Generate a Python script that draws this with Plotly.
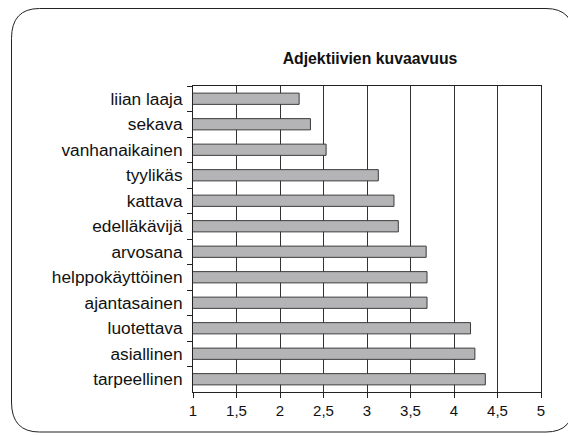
import plotly.graph_objects as go

categories = ["liian laaja", "sekava", "vanhanaikainen", "tyylikäs", "kattava",
              "edelläkävijä", "arvosana", "helppokäyttöinen", "ajantasainen",
              "luotettava", "asiallinen", "tarpeellinen"]
values = [2.22, 2.35, 2.53, 3.13, 3.31, 3.36, 3.68, 3.69, 3.69, 4.19, 4.24, 4.36]
x_ticks = [1, 1.5, 2, 2.5, 3, 3.5, 4, 4.5, 5]
x_tick_labels = ["1", "1,5", "2", "2,5", "3", "3,5", "4", "4,5", "5"]

OFF = 8  # default page body margin
W, H = 576 - OFF, 436 - OFF
L, R, T, B = 193 - OFF, 35, 86 - OFF, 44
pw, ph = W - L - R, H - T - B


def px(X):
    return (X - OFF - L) / pw


def py(Y):
    return (H - B - (Y - OFF)) / ph


fig = go.Figure(go.Bar(
    y=categories, x=values, orientation="h",
    marker=dict(color="#b4b4b6", line=dict(color="#3a3a3a", width=1)),
    width=0.44,
))

# rounded outer border (page coordinates)
x0, x1, y0, y1 = px(11.5), px(574), py(8.5), py(432)
rx = 28 / pw
ry = 30 / ph
path = (f"M {x0+rx},{y0} L {x1-rx},{y0} Q {x1},{y0} {x1},{y0-ry} "
        f"L {x1},{y1+ry} Q {x1},{y1} {x1-rx},{y1} "
        f"L {x0+rx},{y1} Q {x0},{y1} {x0},{y1+ry} "
        f"L {x0},{y0-ry} Q {x0},{y0} {x0+rx},{y0} Z")

fig.update_layout(
    width=W, height=H,
    margin=dict(l=L, r=R, t=T, b=B),
    paper_bgcolor="white", plot_bgcolor="white",
    font=dict(family="Liberation Sans, Arial, sans-serif", color="#111111"),
    showlegend=False,
    title=dict(text="<b>Adjektiivien kuvaavuus</b>", xref="container",
               x=(370 - OFF) / W, xanchor="center",
               yref="container", y=1 - (58 - OFF) / H, yanchor="middle",
               font=dict(size=15.8)),
    xaxis=dict(range=[1, 5], tickvals=x_ticks, ticktext=x_tick_labels,
               showgrid=True, gridcolor="#333333", gridwidth=1,
               showline=True, linecolor="#222222", linewidth=1, mirror=True,
               ticks="outside", ticklen=5, tickcolor="#222222",
               tickfont=dict(size=15), zeroline=False),
    yaxis=dict(categoryorder="array", categoryarray=categories, autorange="reversed",
               showgrid=False, showline=True, linecolor="#222222", linewidth=1,
               mirror=True, ticks="outside", ticklen=5, tickcolor="#222222",
               tickson="boundaries", tickfont=dict(size=17.3),
               ticklabelstandoff=6),
    shapes=[dict(type="path", path=path, xref="paper", yref="paper",
                 line=dict(color="#222222", width=1), layer="below")],
)

fig.write_html("out.html")
